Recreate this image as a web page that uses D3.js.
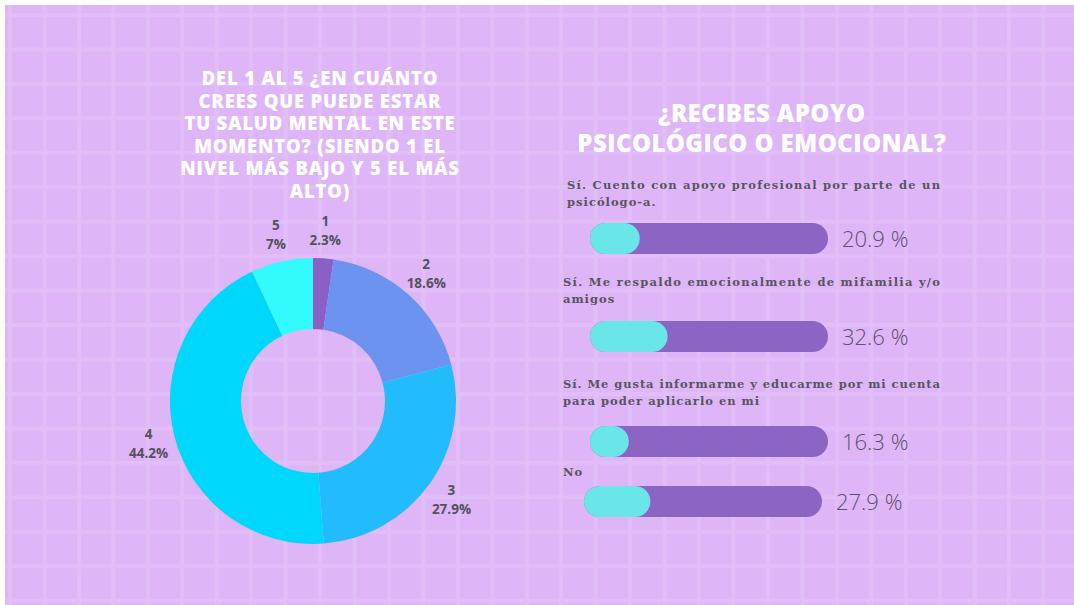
<!DOCTYPE html>
<html>
<head>
<meta charset="utf-8">
<script src="https://cdn.jsdelivr.net/npm/d3@7"></script>
<style>
  body { margin: 0; background: #fff; }
  svg { display: block; }
</style>
</head>
<body>
<script>
// donut data
var levels = ["1", "2", "3", "4", "5"];
var levelPct = [2.3, 18.6, 27.9, 44.2, 7];
var levelColors = ["#8a5fc6", "#6c93f0", "#22bcfc", "#00d7fc", "#33fbfd"];

// bar data
var answers = [
  ["Sí. Cuento con apoyo profesional por parte de un", "psicólogo-a."],
  ["Sí. Me respaldo emocionalmente de mifamilia y/o", "amigos"],
  ["Sí. Me gusta informarme y educarme por mi cuenta", "para poder aplicarlo en mi"],
  ["No"]
];
var answerPct = [20.9, 32.6, 16.3, 27.9];

var leftTitle = ["DEL 1 AL 5 ¿EN CUÁNTO", "CREES QUE PUEDE ESTAR", "TU SALUD MENTAL EN ESTE",
  "MOMENTO? (SIENDO 1 EL", "NIVEL MÁS BAJO Y 5 EL MÁS", "ALTO)"];
var rightTitle = ["¿RECIBES APOYO", "PSICOLÓGICO O EMOCIONAL?"];

var W = 1074, H = 605;
var svg = d3.select("body").append("svg").attr("width", W).attr("height", H);

// background + soft grid
svg.append("rect").attr("x", 5).attr("y", 5).attr("width", W - 5).attr("height", H - 5)
  .attr("fill", "#deb5f7");
var grid = svg.append("g").attr("stroke", "#e2bef9").attr("stroke-width", 4);
grid.selectAll("line.v").data(d3.range(10, W, 34.45)).enter().append("line")
  .attr("x1", function(d) { return d; }).attr("x2", function(d) { return d; })
  .attr("y1", 5).attr("y2", H);
grid.selectAll("line.h").data(d3.range(15, H, 34.45)).enter().append("line")
  .attr("y1", function(d) { return d; }).attr("y2", function(d) { return d; })
  .attr("x1", 5).attr("x2", W);

// left title
svg.append("g").selectAll("text").data(leftTitle).enter().append("text")
  .attr("x", 320).attr("y", function(d, i) { return 85 + i * 22.6; })
  .attr("text-anchor", "middle")
  .attr("fill", "#fff").attr("font-family", "'Open Sans', sans-serif")
  .attr("font-weight", 800).attr("font-size", 18.5).attr("letter-spacing", 0.8)
  .text(function(d) { return d; });

// donut
var cx = 313, cy = 401, outerR = 143, innerR = 72;
var pie = d3.pie().sort(null).value(function(d) { return d; });
var arcs = pie(levelPct);
var arc = d3.arc().innerRadius(innerR).outerRadius(outerR);
var labelArc = d3.arc().innerRadius(170).outerRadius(170);
var donut = svg.append("g").attr("transform", "translate(" + cx + "," + cy + ")");
donut.selectAll("path").data(arcs).enter().append("path")
  .attr("d", arc)
  .attr("fill", function(d, i) { return levelColors[i]; });
var lbl = donut.selectAll("g.lbl").data(arcs).enter().append("g")
  .attr("transform", function(d) { var c = labelArc.centroid(d); return "translate(" + c[0] + "," + c[1] + ")"; })
  .attr("font-family", "'Open Sans', sans-serif").attr("font-weight", 700)
  .attr("font-size", 13.5).attr("fill", "#55515f").attr("text-anchor", "middle");
lbl.append("text").attr("y", -5).text(function(d, i) { return levels[i]; });
lbl.append("text").attr("y", 14).text(function(d, i) { return levelPct[i] + "%"; });

// right title
svg.append("g").selectAll("text").data(rightTitle).enter().append("text")
  .attr("x", 762).attr("y", function(d, i) { return 122 + i * 30; })
  .attr("text-anchor", "middle")
  .attr("fill", "#fff").attr("font-family", "'Open Sans', sans-serif")
  .attr("font-weight", 800).attr("font-size", 24).attr("letter-spacing", 0.4)
  .text(function(d) { return d; });

// bars
var barX = [590, 590, 590, 584];
var barY = [223, 321, 426, 486];
var labelY = [189, 286, 388, 476];
var labelX = [567, 563, 563, 563];
var barW = 238, barH = 31;
var x = d3.scaleLinear().domain([0, 100]).range([0, barW]);

var bars = svg.selectAll("g.bar").data(answerPct).enter().append("g").attr("class", "bar");
bars.append("rect")
  .attr("x", function(d, i) { return barX[i]; }).attr("y", function(d, i) { return barY[i]; })
  .attr("width", barW).attr("height", barH).attr("rx", barH / 2)
  .attr("fill", "#8b64c4");
bars.append("rect")
  .attr("x", function(d, i) { return barX[i]; }).attr("y", function(d, i) { return barY[i]; })
  .attr("width", function(d) { return x(d); }).attr("height", barH).attr("rx", barH / 2)
  .attr("fill", "#6ae6e8");
bars.append("text")
  .attr("x", function(d, i) { return barX[i] + barW + 14; })
  .attr("y", function(d, i) { return barY[i] + barH / 2 + 8; })
  .attr("font-family", "'Open Sans', sans-serif").attr("font-weight", 300)
  .attr("font-size", 22).attr("fill", "#5e5070")
  .text(function(d) { return d + " %"; });

answers.forEach(function(lines, i) {
  lines.forEach(function(line, j) {
    var t = svg.append("text")
      .attr("x", labelX[i]).attr("y", labelY[i] + j * 17)
      .attr("font-family", "'DejaVu Serif', serif").attr("font-weight", 700)
      .attr("font-size", 11.5).attr("fill", "#5a5360")
      .attr("letter-spacing", 1)
      .text(line);
    if (j === 0 && lines.length > 1) {
      t.attr("letter-spacing", null)
        .attr("textLength", 940 - labelX[i]).attr("lengthAdjust", "spacing");
    }
  });
});
</script>
</body>
</html>
